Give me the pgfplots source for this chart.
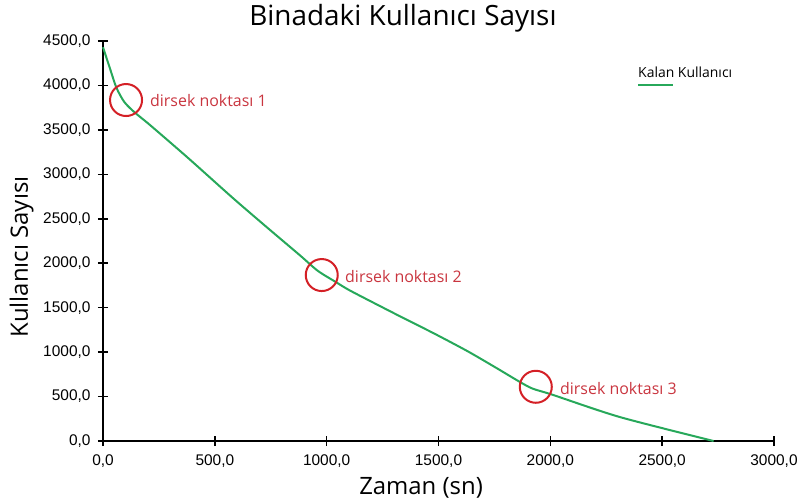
\documentclass[border=0pt]{standalone}
\usepackage{pgfplots}
\pgfplotsset{compat=1.18}
\usepackage{fontspec}
\setmainfont{Open Sans}
\newfontfamily\arialfont{Liberation Sans}
\definecolor{lgreen}{HTML}{27A85A}
\definecolor{cred}{HTML}{D42026}
\definecolor{tred}{HTML}{C9353F}
\begin{document}
\begin{tikzpicture}
\begin{axis}[
  scale only axis, width=671bp, height=400bp,
  xmin=0, xmax=3000, ymin=0, ymax=4500,
  axis lines=left, axis line style={-, line width=1.5bp, black},
  xtick={0,500,...,3000}, ytick={0,500,...,4500},
  tick align=center, major tick length=10bp,
  tick style={line width=1.5bp, black},
  ticklabel style={font=\arialfont\fontsize{15.5}{15.5}\selectfont},
  xticklabel style={yshift=-5bp},
  yticklabel style={xshift=-4bp},
  /pgf/number format/fixed, /pgf/number format/fixed zerofill,
  /pgf/number format/precision=1, /pgf/number format/use comma,
  /pgf/number format/1000 sep={}, /pgf/number format/assume math mode=true,
  title={Binadaki Kullanıcı Sayısı},
  title style={font=\fontsize{28}{30}\selectfont, at={(axis description cs:0.447,1.025)}, anchor=base},
  xlabel={Zaman (sn)},
  xlabel style={font=\fontsize{24}{24}\selectfont, at={(axis description cs:0.474,-0.1325)}, anchor=base},
  ylabel={Kullanıcı Sayısı},
  ylabel style={font=\fontsize{24}{24}\selectfont, at={(axis description cs:-0.112,0.46)}, anchor=base},
  clip=false,
]
\addplot[lgreen, line width=2bp, smooth, tension=0.45] coordinates {
(0,4430) (30,4200) (60,3975) (95,3815) (140,3700) (210,3555) (380,3185)
(580,2735) (730,2410) (880,2090) (960,1915) (1040,1790) (1110,1685)
(1330,1400) (1480,1210) (1630,1010) (1760,820) (1860,670) (1920,590)
(2010,520) (2310,270) (2730,0)
};
\addplot[only marks, mark=o, mark size=16bp, cred, mark options={line width=2bp}] coordinates {
(103,3836) (978,1867) (1935,610)
};
\node[anchor=west, inner sep=0, text=tred, font=\fontsize{16}{16}\selectfont] at (axis cs:210,3836) {dirsek noktası 1};
\node[anchor=west, inner sep=0, text=tred, font=\fontsize{16}{16}\selectfont] at (axis cs:1082,1845) {dirsek noktası 2};
\node[anchor=west, inner sep=0, text=tred, font=\fontsize{16}{16}\selectfont] at (axis cs:2043,596) {dirsek noktası 3};
\node[anchor=base west, inner sep=0, font=\fontsize{14}{14}\selectfont] at (axis cs:2392,4084) {Kalan Kullanıcı};
\draw[lgreen, line width=2bp] (axis cs:2392,4005) -- (axis cs:2548,4005);
\coordinate (O) at (rel axis cs:0,0);
\end{axis}
\pgfresetboundingbox
\path ([shift={(-103bp,-63bp)}]O) rectangle ([shift={(699bp,441bp)}]O);
\end{tikzpicture}
\end{document}
